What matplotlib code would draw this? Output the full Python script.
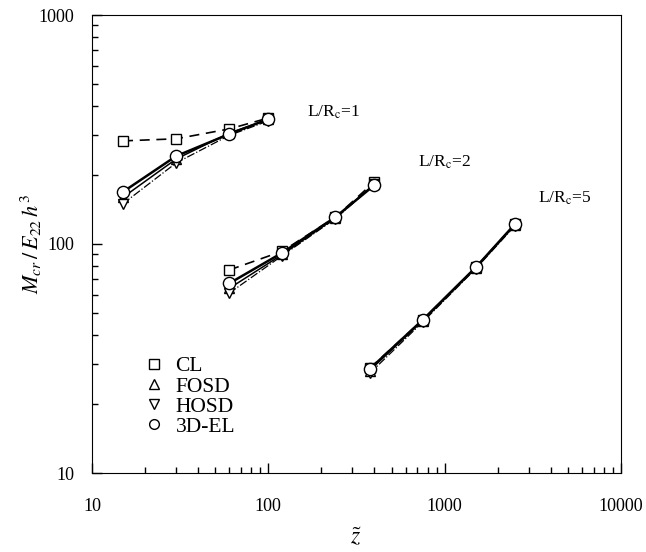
import matplotlib
matplotlib.use("Agg")
import matplotlib.pyplot as plt
from matplotlib.lines import Line2D

plt.rcParams['font.family'] = ['Liberation Serif', 'DejaVu Serif']
plt.rcParams['mathtext.fontset'] = 'stix'

# z-tilde values for the three L/Rc groups
z_L1 = [15, 30, 60, 100]
z_L2 = [60, 120, 240, 400]
z_L5 = [375, 750, 1500, 2500]

# Mcr/(E22 h^3) values
cl_L1 = [282, 288, 318, 355]
fosd_L1 = [160, 235, 305, 350]
hosd_L1 = [150, 226, 298, 345]
el_L1 = [169, 242, 302, 351]

cl_L2 = [77, 93, 131, 187]
fosd_L2 = [64, 90, 130, 183]
hosd_L2 = [61, 89, 129, 182]
el_L2 = [67.3, 91.6, 131, 181]

cl_L5 = [28.6, 46.6, 79, 122]
fosd_L5 = [28.0, 46.2, 78.5, 121]
hosd_L5 = [27.2, 45.6, 78, 120]
el_L5 = [28.4, 46.6, 79, 122]

series_labels = ['CL', 'FOSD', 'HOSD', '3D-EL']
group_labels = ['L/R$_\\mathrm{c}$=1', 'L/R$_\\mathrm{c}$=2', 'L/R$_\\mathrm{c}$=5']

fig = plt.figure(figsize=(6.46, 5.52), dpi=100)
ax = fig.add_axes([92/646, 1-473/552, (621-92)/646, (473-15)/552])

groups = [
    (z_L1, cl_L1, fosd_L1, hosd_L1, el_L1),
    (z_L2, cl_L2, fosd_L2, hosd_L2, el_L2),
    (z_L5, cl_L5, fosd_L5, hosd_L5, el_L5),
]

mk = dict(markerfacecolor='white', markeredgecolor='black', markeredgewidth=1.0)
for z, cl, fo, ho, el in groups:
    ax.plot(z, cl, color='black', lw=1.2, ls=(0, (6, 4)), marker='s', ms=7.5, zorder=3, **mk)
    ax.plot(z, fo, color='black', lw=1.1, marker='^', ms=7.5, zorder=3, **mk)
    ax.plot(z, ho, color='black', lw=0.9, ls='-.', marker='v', ms=7.5, zorder=3, **mk)
    ax.plot(z, el, color='black', lw=1.8, marker='o', ms=8.8, zorder=4, **mk)

ax.set_xscale('log')
ax.set_yscale('log')
ax.set_xlim(10, 10000)
ax.set_ylim(10, 1000)

ax.tick_params(which='both', direction='in', top=False, right=False, labelsize=13)
ax.tick_params(which='major', length=7, width=1)
ax.tick_params(which='minor', length=4, width=1)
ax.set_xticks([10, 100, 1000, 10000])
ax.set_xticklabels(['10', '100', '1000', '10000'])
ax.set_yticks([10, 100, 1000])
ax.set_yticklabels(['10', '100', '1000'])
ax.tick_params(axis='x', pad=18)
ax.tick_params(axis='y', pad=13)

ax.set_xlabel('$\\tilde{z}$', fontsize=17, labelpad=8)
ax.set_ylabel('$M_{cr}\\,/\\,E_{22}\\,h^{3}$', fontsize=16, labelpad=-4)

# group annotations (axes-fraction positions)
ax.text(0.406, 0.788, group_labels[0], fontsize=12.5, ha='left', va='center', transform=ax.transAxes)
ax.text(0.616, 0.679, group_labels[1], fontsize=12.5, ha='left', va='center', transform=ax.transAxes)
ax.text(0.843, 0.600, group_labels[2], fontsize=12.5, ha='left', va='center', transform=ax.transAxes)

leg_handles = [Line2D([], [], ls='none', marker=m, ms=7, markerfacecolor='white',
                      markeredgecolor='black') for m in ['s', '^', 'v', 'o']]
ax.legend(leg_handles, series_labels, loc='lower left', bbox_to_anchor=(0.06, 0.037),
          frameon=False, fontsize=15.5, handletextpad=0.5, labelspacing=0.0,
          handlelength=1.0)

fig.savefig('out.png', dpi=100)
